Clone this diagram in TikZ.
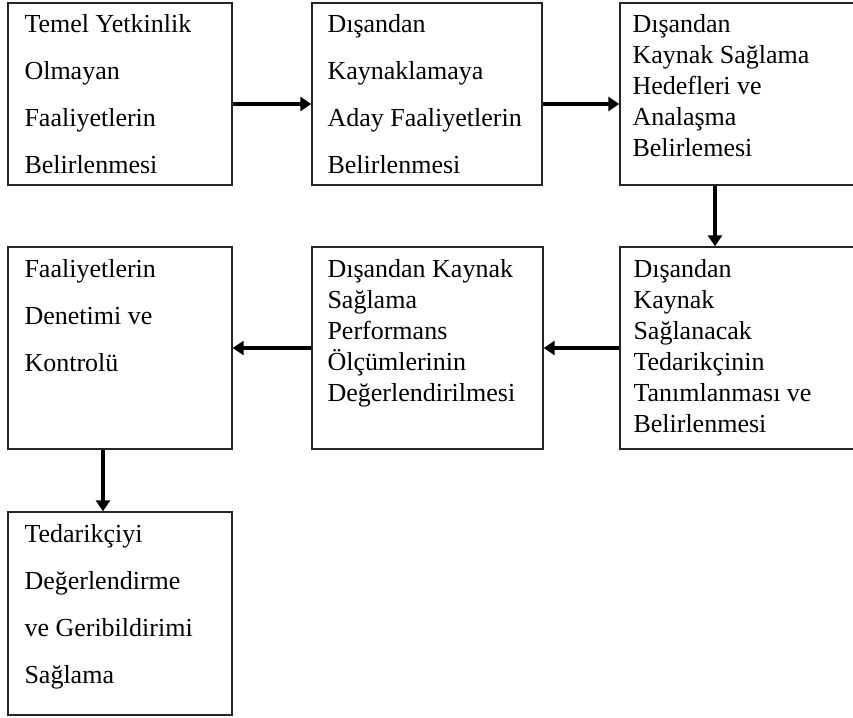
\documentclass[tikz,border=0pt]{standalone}
\usepackage{fontspec}
\setmainfont{Liberation Serif}
\usepackage{tikz}
\usetikzlibrary{arrows.meta}
\tikzset{
  stepbox/.style={draw=black!85,line width=1.4pt,rectangle,inner sep=0pt},
  wide/.style={font=\fontsize{26}{47}\selectfont,align=left,anchor=north west,inner sep=0pt,
    execute at begin node=\rule{0pt}{20pt}},
  tight/.style={font=\fontsize{26}{31}\selectfont,align=left,anchor=north west,inner sep=0pt,
    execute at begin node=\rule{0pt}{20pt}},
  flow/.style={line width=3.2pt,-{Triangle[length=11pt,width=14pt]}}
}

\begin{document}
\begin{tikzpicture}[x=1pt,y=-1pt]
  \useasboundingbox (0,0) rectangle (853,717);
  % boxes
  \node[stepbox,minimum width=224pt,minimum height=182pt] (a) at (120,94) {};
  \node[stepbox,minimum width=230pt,minimum height=182pt] (b) at (427,94) {};
  \node[stepbox,minimum width=240pt,minimum height=182pt] (c) at (740,94) {};
  \node[stepbox,minimum width=224pt,minimum height=202pt] (d) at (120,348) {};
  \node[stepbox,minimum width=231pt,minimum height=202pt] (e) at (427.5,348) {};
  \node[stepbox,minimum width=240pt,minimum height=202pt] (f) at (740,348) {};
  \node[stepbox,minimum width=224pt,minimum height=203pt] (g) at (120,613.5) {};
  % texts (first baseline 32pt below the top edge)
  \node[wide] (a-t) at ([xshift=17pt,yshift=-12pt]a.north west)
    {Temel Yetkinlik\\Olmayan\\Faaliyetlerin\\Belirlenmesi};
  \node[wide] (b-t) at ([xshift=16pt,yshift=-12pt]b.north west)
    {Dışandan\\Kaynaklamaya\\Aday Faaliyetlerin\\Belirlenmesi};
  \node[tight] (c-t) at ([xshift=13pt,yshift=-12pt]c.north west)
    {Dışandan\\Kaynak Sağlama\\Hedefleri ve\\Analaşma\\Belirlemesi};
  \node[wide] (d-t) at ([xshift=17pt,yshift=-13pt]d.north west)
    {Faaliyetlerin\\Denetimi ve\\Kontrolü};
  \node[tight] (e-t) at ([xshift=16pt,yshift=-13pt]e.north west)
    {Dışandan Kaynak\\Sağlama\\Performans\\Ölçümlerinin\\Değerlendirilmesi};
  \node[tight] (f-t) at ([xshift=14pt,yshift=-13pt]f.north west)
    {Dışandan\\Kaynak\\Sağlanacak\\Tedarikçinin\\Tanımlanması ve\\Belirlenmesi};
  \node[wide] (g-t) at ([xshift=17pt,yshift=-13pt]g.north west)
    {Tedarikçiyi\\Değerlendirme\\ve Geribildirimi\\Sağlama};
  % arrows
  \draw[flow] ([yshift=-10pt]a.east) -- ([yshift=-10pt]b.west);
  \draw[flow] ([yshift=-10pt]b.east) -- ([yshift=-10pt]c.west);
  \draw[flow] ([xshift=-25pt]c.south) -- ([xshift=-25pt]f.north);
  \draw[flow] (f.west) -- (e.east);
  \draw[flow] (e.west) -- (d.east);
  \draw[flow] ([xshift=-17pt]d.south) -- ([xshift=-17pt]g.north);
\end{tikzpicture}
\end{document}
